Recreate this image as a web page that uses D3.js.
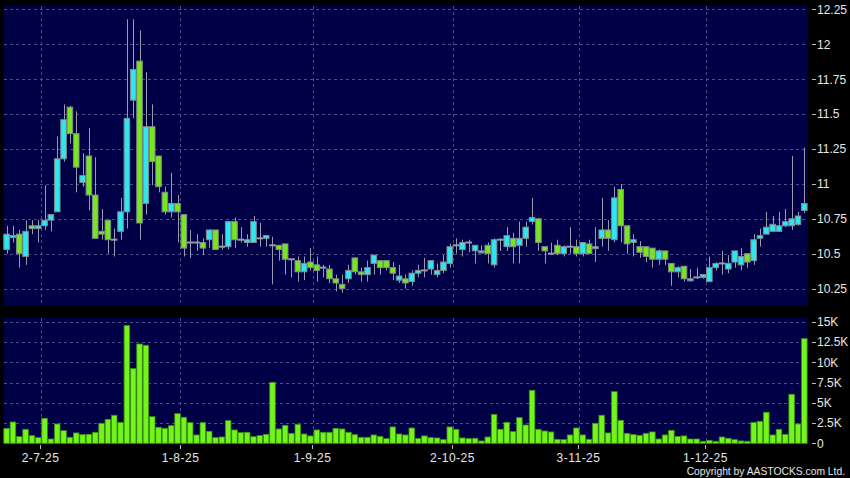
<!DOCTYPE html>
<html>
<head>
<meta charset="utf-8">
<script src="https://cdn.jsdelivr.net/npm/d3@7"></script>
<style>
  body { margin: 0; background: #000; }
  text { font-family: "Liberation Sans", Arial, sans-serif; fill: #e6e6e6; }
</style>
</head>
<body>
<div id="chart"></div>
<script>
// DATA
// ------------------------------------------------------------------

// daily candles, one entry per trading day (24-6-25 .. 23-12-25)
var opens = [10.53,10.62,10.64,10.48,10.70,10.68,10.70,10.74,10.80,11.18,
  11.55,11.36,11.01,11.20,10.92,10.66,10.74,10.60,10.66,10.80,
  11.60,11.88,10.86,11.41,11.20,10.94,10.80,10.86,10.78,10.58,
  10.58,10.58,10.60,10.67,10.55,10.55,10.73,10.60,10.58,10.58,
  10.61,10.61,10.56,10.56,10.57,10.46,10.45,10.37,10.44,10.42,
  10.40,10.39,10.32,10.28,10.32,10.47,10.37,10.35,10.43,10.45,
  10.45,10.40,10.31,10.32,10.30,10.36,10.38,10.39,10.35,10.38,
  10.43,10.56,10.53,10.58,10.52,10.51,10.56,10.42,10.60,10.55,
  10.61,10.56,10.61,10.73,10.75,10.55,10.50,10.56,10.50,10.55,
  10.55,10.50,10.57,10.54,10.61,10.67,10.60,10.96,10.70,10.58,
  10.55,10.55,10.54,10.46,10.52,10.43,10.37,10.41,10.31,10.33,
  10.33,10.30,10.40,10.43,10.39,10.44,10.42,10.50,10.45,10.61,
  10.64,10.66,10.66,10.70,10.70,10.71,10.81];
var highs = [10.70,10.70,10.67,10.74,10.74,10.74,10.99,10.78,11.34,11.57,
  11.56,11.52,11.22,11.40,11.19,10.82,10.74,10.68,10.90,12.18,
  12.18,12.10,11.80,11.57,11.20,10.98,11.08,10.92,10.78,10.67,
  10.64,10.61,10.67,10.67,10.64,10.73,10.76,10.69,10.64,10.77,
  10.72,10.63,10.62,10.56,10.57,10.46,10.48,10.48,10.54,10.48,
  10.42,10.42,10.35,10.35,10.42,10.47,10.40,10.45,10.49,10.45,
  10.45,10.44,10.42,10.35,10.38,10.42,10.47,10.45,10.43,10.49,
  10.57,10.61,10.60,10.60,10.56,10.56,10.58,10.61,10.61,10.69,
  10.65,10.73,10.73,10.90,10.75,10.55,10.58,10.60,10.56,10.69,
  10.60,10.58,10.60,10.69,10.90,10.74,10.98,11.00,10.70,10.64,
  10.59,10.55,10.54,10.53,10.52,10.43,10.41,10.41,10.39,10.40,
  10.35,10.48,10.44,10.52,10.49,10.52,10.54,10.50,10.64,10.68,
  10.80,10.77,10.80,10.82,11.20,10.80,11.26];
var lows = [10.50,10.58,10.40,10.42,10.64,10.58,10.67,10.66,10.80,11.16,
  11.29,10.94,10.98,10.81,10.61,10.60,10.50,10.48,10.60,10.68,
  11.47,10.60,10.78,10.99,10.94,10.78,10.76,10.58,10.48,10.47,
  10.52,10.49,10.54,10.53,10.53,10.53,10.54,10.58,10.55,10.58,
  10.55,10.55,10.28,10.45,10.35,10.33,10.30,10.31,10.38,10.30,
  10.33,10.29,10.23,10.22,10.29,10.35,10.30,10.30,10.35,10.35,
  10.38,10.31,10.29,10.25,10.27,10.33,10.33,10.35,10.33,10.36,
  10.40,10.50,10.48,10.51,10.43,10.50,10.43,10.40,10.52,10.52,
  10.43,10.43,10.55,10.71,10.52,10.43,10.49,10.49,10.48,10.50,
  10.48,10.48,10.50,10.44,10.55,10.52,10.58,10.58,10.50,10.48,
  10.47,10.44,10.40,10.42,10.42,10.27,10.33,10.30,10.30,10.32,
  10.32,10.30,10.38,10.35,10.36,10.40,10.38,10.40,10.42,10.55,
  10.64,10.66,10.66,10.69,10.67,10.70,10.79];
var closes = [10.64,10.63,10.50,10.66,10.68,10.70,10.74,10.78,11.18,11.46,
  11.36,11.12,11.06,10.92,10.61,10.64,10.60,10.60,10.80,11.47,
  11.82,10.72,11.41,11.16,10.98,10.80,10.86,10.80,10.54,10.58,
  10.58,10.54,10.67,10.53,10.55,10.73,10.60,10.60,10.60,10.73,
  10.61,10.63,10.56,10.53,10.46,10.46,10.37,10.43,10.40,10.38,
  10.40,10.32,10.29,10.25,10.38,10.37,10.35,10.40,10.49,10.40,
  10.40,10.36,10.34,10.29,10.36,10.38,10.38,10.45,10.38,10.44,
  10.55,10.56,10.58,10.58,10.56,10.52,10.50,10.60,10.60,10.63,
  10.55,10.61,10.69,10.76,10.58,10.52,10.50,10.50,10.55,10.55,
  10.50,10.58,10.50,10.55,10.67,10.61,10.90,10.70,10.57,10.60,
  10.51,10.48,10.46,10.52,10.46,10.37,10.40,10.32,10.32,10.33,
  10.35,10.40,10.43,10.43,10.43,10.52,10.48,10.44,10.60,10.63,
  10.69,10.71,10.70,10.73,10.75,10.77,10.86];
var volumes = [1850,2630,820,1730,950,700,3090,530,2390,1560,
  740,1280,1070,1110,1360,2470,2960,3460,2590,14530,
  9220,12260,12100,3290,1980,1850,2180,3660,3210,2550,
  1030,2550,1480,700,780,2800,1650,1320,1360,820,
  950,1110,7530,1770,2220,1230,2350,1150,910,1650,
  1360,1360,1850,1770,1360,1070,740,740,1030,860,
  580,2020,1150,1030,1890,580,910,700,660,450,
  2020,1730,660,580,620,290,780,3580,1730,2590,
  1440,3170,2260,6540,1730,1520,1400,490,450,1030,
  1890,1030,490,2470,3460,1280,6380,2840,1230,1070,
  990,1230,1400,530,1030,1600,860,910,530,530,
  250,370,250,780,620,450,290,250,2590,2720,
  3830,1030,1730,1110,6050,2390,12920];

var priceTicks = [10.25, 10.5, 10.75, 11, 11.25, 11.5, 11.75, 12, 12.25];
var volumeTicks = [0, 2500, 5000, 7500, 10000, 12500, 15000];
var volumeTickLabels = ["0", "2.5K", "5K", "7.5K", "10K", "12.5K", "15K"];
var dateTickIndex = [5, 27, 48, 70, 90, 110];
var dateTickLabels = ["2-7-25", "1-8-25", "1-9-25", "2-10-25", "3-11-25", "1-12-25"];

// CANVAS
// ------------------------------------------------------------------

var width = 850,
    height = 478;

var left = 4, right = 808,
    priceTop = 6, priceBottom = 306,
    volTop = 318, volBottom = 444;

var navy = "#000046",
    gridColor = "#4c4c88",
    upColor = "#2ee6f0",
    downColor = "#78e61e",
    edgeColor = "#808a8c",
    wickColor = "#9a9aae";

var svg = d3.select("#chart")
    .append("svg")
    .attr("width", width)
    .attr("height", height);

svg.append("rect")
    .attr("width", width)
    .attr("height", height)
    .attr("fill", "#000");

svg.append("rect")
    .attr("x", left).attr("y", priceTop)
    .attr("width", right - left).attr("height", priceBottom - priceTop)
    .attr("fill", navy);

svg.append("rect")
    .attr("x", left).attr("y", volTop)
    .attr("width", right - left).attr("height", volBottom - volTop)
    .attr("fill", navy);

// SCALES
// ------------------------------------------------------------------

var xScale = d3.scaleBand()
    .domain(d3.range(opens.length))
    .range([3.8, 807.1])
    .paddingInner(0.12)
    .paddingOuter(0);

var bw = xScale.bandwidth();
function cx(i) { return xScale(i) + bw / 2; }
// gridlines sit on the right edge of the band, labels a little left of that
function gridX(i) { return Math.round(xScale(i) + bw) + 0.5; }
function labelX(i) { return Math.round(cx(i) + 2) + 0.5; }

var yScale = d3.scaleLinear()
    .domain([10.125, 12.275])
    .range([priceBottom, priceTop]);

var vScale = d3.scaleLinear()
    .domain([0, 15470])
    .range([443.3, volTop]);

// GRID
// ------------------------------------------------------------------

var grid = svg.append("g")
    .attr("stroke", gridColor)
    .attr("stroke-dasharray", "3,3")
    .attr("stroke-width", 1);

grid.selectAll(".hp")
    .data(priceTicks)
    .enter().append("line")
    .attr("x1", left).attr("x2", right)
    .attr("y1", function(d) { return Math.round(yScale(d)) + 0.5; })
    .attr("y2", function(d) { return Math.round(yScale(d)) + 0.5; });

grid.selectAll(".hv")
    .data(volumeTicks.slice(1))
    .enter().append("line")
    .attr("x1", left).attr("x2", right)
    .attr("y1", function(d) { return Math.round(vScale(d)) + 0.5; })
    .attr("y2", function(d) { return Math.round(vScale(d)) + 0.5; });

grid.selectAll(".vp")
    .data(dateTickIndex)
    .enter().append("line")
    .attr("x1", gridX).attr("x2", gridX)
    .attr("y1", priceTop).attr("y2", priceBottom);

grid.selectAll(".vv")
    .data(dateTickIndex)
    .enter().append("line")
    .attr("x1", gridX).attr("x2", gridX)
    .attr("y1", volTop).attr("y2", volBottom);

// CANDLES
// ------------------------------------------------------------------

var idx = d3.range(opens.length);

svg.append("g").selectAll("line")
    .data(idx)
    .enter().append("line")
    .attr("x1", function(i) { return Math.round(cx(i)) + 0.5; })
    .attr("x2", function(i) { return Math.round(cx(i)) + 0.5; })
    .attr("y1", function(i) { return yScale(highs[i]); })
    .attr("y2", function(i) { return yScale(lows[i]); })
    .attr("stroke", wickColor)
    .attr("stroke-width", 1);

var bodies = idx.filter(function(i) { return opens[i] !== closes[i]; });
var dojis = idx.filter(function(i) { return opens[i] === closes[i]; });

svg.append("g").selectAll("rect")
    .data(bodies)
    .enter().append("rect")
    .attr("x", function(i) { return xScale(i); })
    .attr("width", bw)
    .attr("y", function(i) { return yScale(Math.max(opens[i], closes[i])); })
    .attr("height", function(i) {
      return Math.max(2, Math.abs(yScale(opens[i]) - yScale(closes[i])));
    })
    .attr("fill", function(i) { return closes[i] > opens[i] ? upColor : downColor; })
    .attr("stroke", edgeColor)
    .attr("stroke-width", 1);

svg.append("g").selectAll("line")
    .data(dojis)
    .enter().append("line")
    .attr("x1", function(i) { return xScale(i) - 0.5; })
    .attr("x2", function(i) { return xScale(i) + bw + 0.5; })
    .attr("y1", function(i) { return yScale(opens[i]); })
    .attr("y2", function(i) { return yScale(opens[i]); })
    .attr("stroke", wickColor)
    .attr("stroke-width", 2);

// VOLUME
// ------------------------------------------------------------------

svg.append("g").selectAll("rect")
    .data(idx)
    .enter().append("rect")
    .attr("x", function(i) { return xScale(i); })
    .attr("width", bw)
    .attr("y", function(i) { return vScale(volumes[i]); })
    .attr("height", function(i) { return vScale(0) - vScale(volumes[i]); })
    .attr("fill", "#72f41c")
    .attr("stroke", "#3a9010")
    .attr("stroke-width", 0.8);

// AXES
// ------------------------------------------------------------------

var priceAxis = svg.append("g");
priceAxis.selectAll("line")
    .data(priceTicks)
    .enter().append("line")
    .attr("x1", 812).attr("x2", 816)
    .attr("y1", function(d) { return Math.round(yScale(d)) + 0.5; })
    .attr("y2", function(d) { return Math.round(yScale(d)) + 0.5; })
    .attr("stroke", "#bbb");
priceAxis.selectAll("text")
    .data(priceTicks)
    .enter().append("text")
    .attr("x", 817)
    .attr("y", function(d) { return yScale(d) + 4.3; })
    .style("font-size", "12px")
    .text(function(d) { return d; });

var volAxis = svg.append("g");
volAxis.selectAll("line")
    .data(volumeTicks)
    .enter().append("line")
    .attr("x1", 812).attr("x2", 816)
    .attr("y1", function(d) { return Math.round(vScale(d)) + 0.5; })
    .attr("y2", function(d) { return Math.round(vScale(d)) + 0.5; })
    .attr("stroke", "#bbb");
volAxis.selectAll("text")
    .data(volumeTicks)
    .enter().append("text")
    .attr("x", 817)
    .attr("y", function(d) { return vScale(d) + 4.3; })
    .style("font-size", "12px")
    .text(function(d, i) { return volumeTickLabels[i]; });

var dateAxis = svg.append("g");
dateAxis.selectAll("line")
    .data(dateTickIndex)
    .enter().append("line")
    .attr("x1", labelX).attr("x2", labelX)
    .attr("y1", 445).attr("y2", 449)
    .attr("stroke", "#bbb");
dateAxis.selectAll("text")
    .data(dateTickIndex)
    .enter().append("text")
    .attr("x", labelX)
    .attr("y", 462)
    .style("text-anchor", "middle")
    .style("font-size", "12px")
    .style("letter-spacing", "0.5px")
    .text(function(d, i) { return dateTickLabels[i]; });

svg.append("text")
    .attr("x", 845)
    .attr("y", 474.5)
    .style("text-anchor", "end")
    .style("font-size", "10.3px")
    .text("Copyright by AASTOCKS.com Ltd.");
</script>
</body>
</html>
